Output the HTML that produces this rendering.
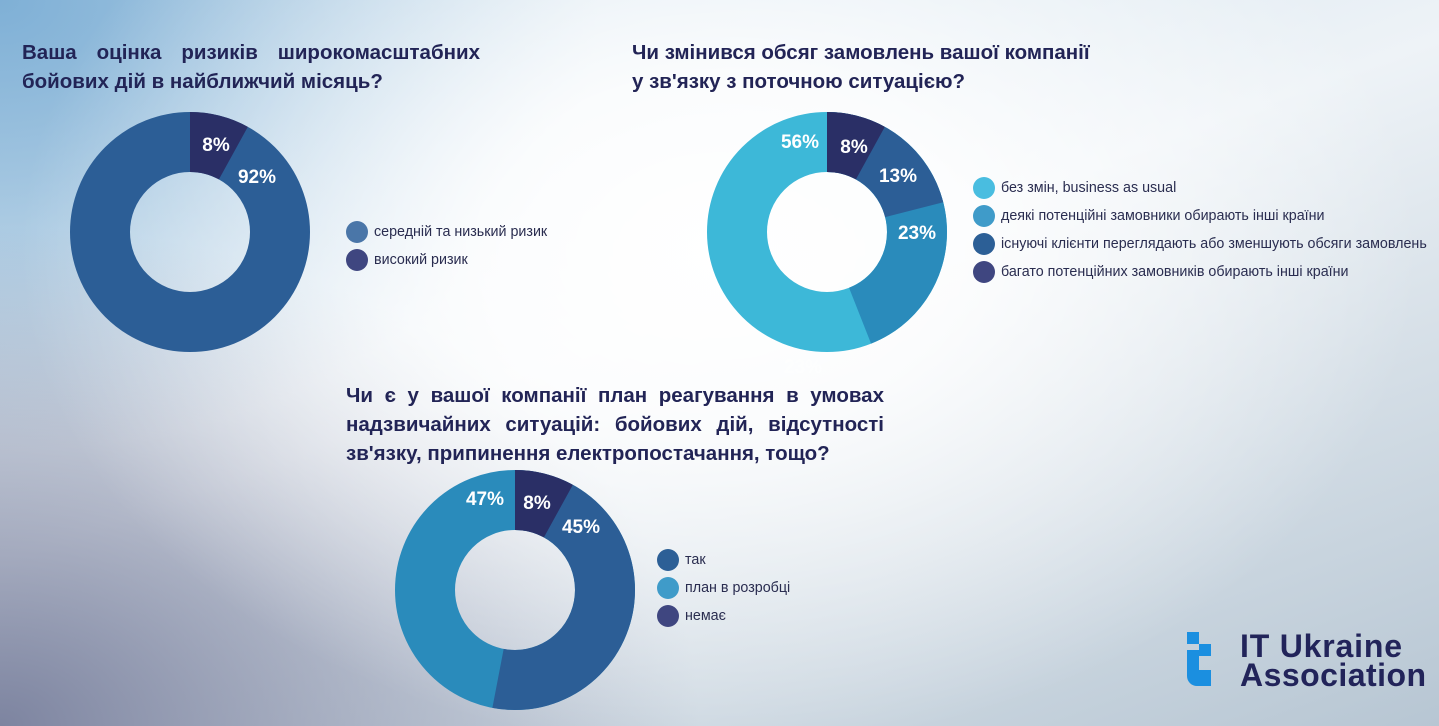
<!DOCTYPE html>
<html><head><meta charset="utf-8"><style>
html,body{margin:0;padding:0}
body{width:1439px;height:726px;position:relative;overflow:hidden;font-family:"Liberation Sans","DejaVu Sans",sans-serif;
background:
radial-gradient(ellipse 700px 500px at 720px 250px, rgba(255,255,255,1) 0%, rgba(255,255,255,0.85) 35%, rgba(255,255,255,0) 100%),
radial-gradient(ellipse 700px 500px at 0px 726px, #7d84a0 0%, rgba(125,132,160,0) 100%),
radial-gradient(ellipse 600px 450px at 0px 0px, #7fb0d6 0%, rgba(127,176,214,0) 100%),
linear-gradient(160deg,#c8dcea 0%,#eef3f7 45%,#b7c6d3 100%);}
.t{position:absolute;color:#222456;font-weight:bold;font-size:20.5px;line-height:29px;text-align:justify;text-align-last:left}
.lg{position:absolute;font-size:14.3px;color:#2a2d50}
.lg div{position:relative;height:28px;line-height:28px;padding-left:17px;white-space:nowrap}
.lg span{position:absolute;left:-11px;top:3px;width:22px;height:22px;border-radius:50%}
svg{position:absolute;left:0;top:0}
</style></head><body>
<div class="t" style="left:22px;top:38px;width:458px">Ваша оцінка ризиків широкомасштабних бойових дій в найближчий місяць?</div>
<div class="t" style="left:632px;top:38px;width:480px;text-align:left">Чи змінився обсяг замовлень вашої компанії<br>у зв'язку з поточною ситуацією?</div>
<div class="t" style="left:346px;top:381px;width:538px">Чи є у вашої компанії план реагування в умовах надзвичайних ситуацій: бойових дій, відсутності зв'язку, припинення електропостачання, тощо?</div>

<svg width="1439" height="726">
<g fill="none" stroke-width="60">
<g transform="rotate(-90 190 232)">
<circle cx="190" cy="232" r="90" stroke="#2c5e96"/>
<circle cx="190" cy="232" r="90" stroke="#2a2f66" stroke-dasharray="45.24 600"/>
</g>
<g transform="rotate(-90 827 232)">
<circle cx="827" cy="232" r="90" stroke="#3db8d8"/>
<circle cx="827" cy="232" r="90" stroke="#2a8bbb" stroke-dasharray="248.8 600"/>
<circle cx="827" cy="232" r="90" stroke="#2c5e96" stroke-dasharray="118.75 600"/>
<circle cx="827" cy="232" r="90" stroke="#2a2f66" stroke-dasharray="45.24 600"/>
</g>
<g transform="rotate(-90 515 590)">
<circle cx="515" cy="590" r="90" stroke="#2a8bbb"/>
<circle cx="515" cy="590" r="90" stroke="#2c5e96" stroke-dasharray="299.7 600"/>
<circle cx="515" cy="590" r="90" stroke="#2a2f66" stroke-dasharray="45.24 600"/>
</g>
</g>
<g font-family="Liberation Sans, sans-serif" font-weight="bold" font-size="19" fill="#fff" text-anchor="middle">
<text x="216" y="151">8%</text>
<text x="257" y="183">92%</text>
<text x="800" y="148">56%</text>
<text x="854" y="153">8%</text>
<text x="898" y="182">13%</text>
<text x="917" y="239">23%</text>
<text x="803" y="373" fill="#fff" opacity="0.6">23%</text>
<text x="485" y="505">47%</text>
<text x="537" y="509">8%</text>
<text x="581" y="533">45%</text>
</g>
<g>
<rect x="1187" y="632" width="12" height="12" fill="#1b8fe0"/>
<rect x="1199" y="644" width="12" height="12" fill="#1b8fe0"/>
<path d="M1187 650 h12 v20 h12 v16 h-14 a10 10 0 0 1 -10 -10 z" fill="#1b8fe0"/>
</g>
<g font-family="Liberation Sans, sans-serif" font-weight="bold" font-size="32" fill="#22245a">
<text x="1240" y="657" textLength="162">IT Ukraine</text>
<text x="1240" y="686" textLength="186">Association</text>
</g>
</svg>

<div class="lg" style="left:357px;top:218px">
<div><span style="background:#4a76a8"></span>середній та низький ризик</div>
<div><span style="background:#3f4680"></span>високий ризик</div>
</div>
<div class="lg" style="left:984px;top:174px">
<div><span style="background:#49bde0"></span>без змін, business as usual</div>
<div><span style="background:#3f9bc9"></span>деякі потенційні замовники обирають інші країни</div>
<div><span style="background:#2c5f96"></span>існуючі клієнти переглядають або зменшують обсяги замовлень</div>
<div><span style="background:#3f4680"></span>багато потенційних замовників обирають інші країни</div>
</div>
<div class="lg" style="left:668px;top:546px">
<div><span style="background:#2c5f96"></span>так</div>
<div><span style="background:#3f9bc9"></span>план в розробці</div>
<div><span style="background:#3f4680"></span>немає</div>
</div>
</body></html>
